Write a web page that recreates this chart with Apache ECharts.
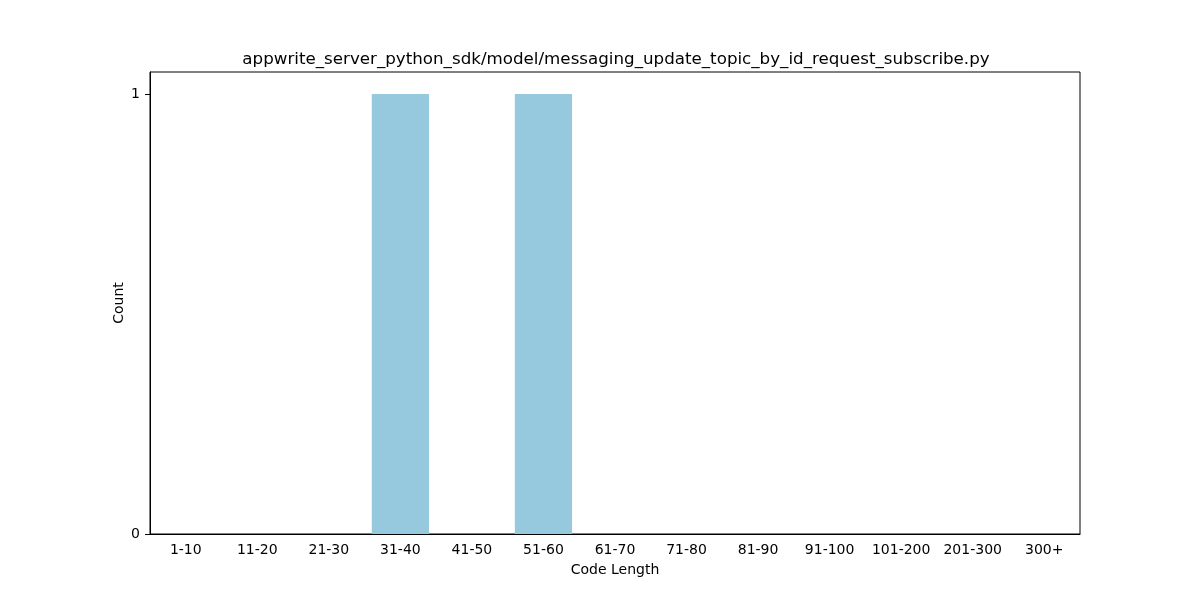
<!DOCTYPE html>
<html>
<head>
<meta charset="utf-8">
<script src="https://cdn.jsdelivr.net/npm/echarts@6/dist/echarts.min.js"></script>
<style>html,body{margin:0;padding:0;background:#fff}#c{width:1200px;height:600px}</style>
</head>
<body>
<div id="c"></div>
<script>
const categories = ['1-10','11-20','21-30','31-40','41-50','51-60','61-70','71-80','81-90','91-100','101-200','201-300','300+'];
const counts = [0,0,0,1,0,1,0,0,0,0,0,0,0];
const yTicks = [0, 1];
const titleText = 'appwrite_server_python_sdk/model/messaging_update_topic_by_id_request_subscribe.py';

const font = 'DejaVu Sans';
const chart = echarts.init(document.getElementById('c'), null, {renderer: 'canvas'});
chart.setOption({
  animation: false,
  backgroundColor: '#ffffff',
  title: {
    text: titleText,
    left: 611, top: 46, textAlign: 'center',
    textStyle: {fontFamily: font, fontSize: 16.7, fontWeight: 'normal', color: '#000'}
  },
  grid: {left: 150, top: 72, width: 930, height: 462, show: true, borderColor: '#000', borderWidth: 1, backgroundColor: 'transparent'},
  xAxis: {
    type: 'category', data: categories, boundaryGap: true,
    name: 'Code Length', nameLocation: 'middle', nameGap: 29,
    nameTextStyle: {fontFamily: font, fontSize: 14, color: '#000'},
    axisLine: {lineStyle: {color: '#000', width: 1}},
    axisTick: {alignWithLabel: true, length: 5, lineStyle: {color: '#000'}},
    axisLabel: {fontFamily: font, fontSize: 14, color: '#000', margin: 9, interval: 0}
  },
  yAxis: {
    type: 'value', min: 0, max: 1.05, interval: 1,
    name: 'Count', nameLocation: 'middle', nameGap: 24, nameMoveOverlap: false,
    nameTextStyle: {fontFamily: font, fontSize: 14, color: '#000'},
    splitLine: {show: false},
    axisLine: {show: true, lineStyle: {color: '#000', width: 1}},
    axisTick: {show: true, length: 5, lineStyle: {color: '#000'}},
    axisLabel: {fontFamily: font, fontSize: 14, color: '#000', margin: 10, showMaxLabel: false,
      formatter: v => (yTicks.indexOf(v) >= 0 ? String(v) : '')}
  },
  series: [{
    type: 'bar', data: counts, barCategoryGap: '20%',
    itemStyle: {color: '#96c9dd'}
  }]
});
</script>
</body>
</html>
